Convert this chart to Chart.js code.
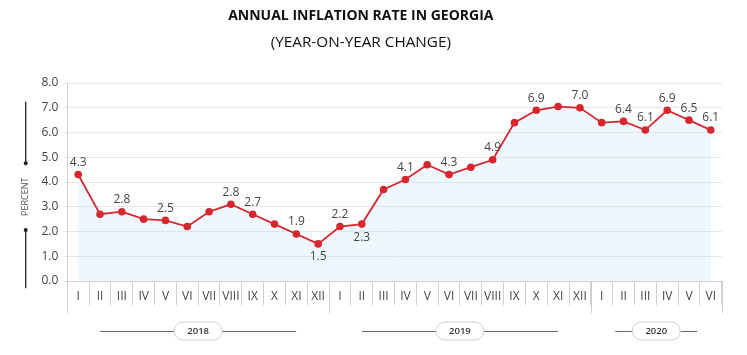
<!DOCTYPE html>
<html>
<head>
<meta charset="utf-8">
<script src="https://cdn.jsdelivr.net/npm/chart.js@4.4.0/dist/chart.umd.min.js"></script>
<style>
  html, body { margin: 0; padding: 0; background: #fff; }
</style>
</head>
<body>
<canvas id="chart" width="747" height="355"></canvas>
<script>
// month labels (roman numerals), Jan 2018 .. Jun 2020
const months = ["I","II","III","IV","V","VI","VII","VIII","IX","X","XI","XII",
                "I","II","III","IV","V","VI","VII","VIII","IX","X","XI","XII",
                "I","II","III","IV","V","VI"];
const years = ["2018", "2019", "2020"];
const yearMonths = [12, 12, 6]; // months shown per year

// annual inflation, %
const inflation = [4.3, 2.7, 2.8, 2.5, 2.45, 2.2, 2.8, 3.1, 2.7, 2.3, 1.9, 1.5,
                   2.2, 2.3, 3.7, 4.1, 4.7, 4.3, 4.6, 4.9, 6.4, 6.9, 7.05, 7.0,
                   6.4, 6.45, 6.1, 6.9, 6.5, 6.1];

// value labels printed on the chart ("" = none)
const pointLabels = ["4.3","","2.8","","2.5","","","2.8","2.7","","1.9","1.5",
                     "2.2","2.3","","4.1","","4.3","","4.9","","6.9","","7.0",
                     "","6.4","6.1","6.9","6.5","6.1"];
const labelsBelow = [11, 13];

const yTicks = [0, 1, 2, 3, 4, 5, 6, 7, 8];

const RED = "#d6262e";
const TXT = "#444";
const FONT = "'Open Sans', sans-serif";

// value labels above / below points
const valueLabels = {
  id: "valueLabels",
  afterDatasetsDraw(chart) {
    const ctx = chart.ctx;
    const pts = chart.getDatasetMeta(0).data;
    ctx.save();
    ctx.font = "12px " + FONT;
    ctx.fillStyle = TXT;
    ctx.textAlign = "center";
    ctx.textBaseline = "middle";
    pts.forEach((p, i) => {
      if (!pointLabels[i]) return;
      const below = labelsBelow.includes(i);
      ctx.fillText(pointLabels[i], p.x, below ? p.y + 13 : p.y - 12);
    });
    ctx.restore();
  }
};

// year separators, year pills and the y-axis caption
const decorations = {
  id: "decorations",
  afterDraw(chart) {
    const ctx = chart.ctx;
    const xs = chart.scales.x;
    const area = chart.chartArea;
    const step = xs.getPixelForValue(1) - xs.getPixelForValue(0);
    ctx.save();

    // longer tick marks at year boundaries
    ctx.strokeStyle = "#cfcfcf";
    ctx.lineWidth = 1;
    let start = 0;
    const bounds = [0];
    yearMonths.forEach(n => { start += n; bounds.push(start); });
    bounds.forEach(b => {
      const x = Math.round(xs.getPixelForValue(b) - step / 2) + 0.5;
      ctx.beginPath();
      ctx.moveTo(x, area.bottom);
      ctx.lineTo(x, area.bottom + 32);
      ctx.stroke();
    });

    // year pills
    const yMid = area.bottom + 50;
    start = 0;
    years.forEach((yr, k) => {
      const n = yearMonths[k];
      const cx = xs.getPixelForValue(start + (n - 1) / 2);
      const half = n === 12 ? 98 : 41;
      start += n;

      ctx.strokeStyle = "#666";
      ctx.lineWidth = 1;
      ctx.beginPath();
      ctx.moveTo(cx - half, yMid + 0.5);
      ctx.lineTo(cx + half, yMid + 0.5);
      ctx.stroke();

      const w = 48, h = 18;
      ctx.beginPath();
      ctx.roundRect(cx - w / 2, yMid - h / 2, w, h, h / 2);
      ctx.fillStyle = "#fff";
      ctx.fill();
      ctx.strokeStyle = "#cfcfcf";
      ctx.stroke();

      ctx.fillStyle = "#333";
      ctx.font = "600 9.5px " + FONT;
      ctx.textAlign = "center";
      ctx.textBaseline = "middle";
      ctx.fillText(yr, cx, yMid + 0.5);
    });

    // "PERCENT" caption with the two marker lines
    const ax = 25.7, cy = 196.7;
    ctx.strokeStyle = "#222";
    ctx.fillStyle = "#222";
    ctx.lineWidth = 1.3;
    ctx.beginPath();
    ctx.moveTo(ax, 101.7); ctx.lineTo(ax, cy - 33.4);
    ctx.moveTo(ax, cy + 33.3); ctx.lineTo(ax, 288.3);
    ctx.stroke();
    [cy - 33.4, cy + 33.3].forEach(y => {
      ctx.beginPath();
      ctx.arc(ax, y, 2, 0, Math.PI * 2);
      ctx.fill();
    });
    ctx.translate(ax, cy);
    ctx.rotate(-Math.PI / 2);
    ctx.fillStyle = "#555";
    ctx.font = "9px " + FONT;
    ctx.textAlign = "center";
    ctx.textBaseline = "middle";
    ctx.fillText("PERCENT", 0, 0);
    ctx.restore();
  }
};

new Chart(document.getElementById("chart"), {
  type: "line",
  data: {
    labels: months,
    datasets: [{
      data: inflation,
      borderColor: RED,
      borderWidth: 1.8,
      backgroundColor: "rgba(200,228,248,0.3)",
      fill: "origin",
      tension: 0,
      pointRadius: 3.8,
      pointBackgroundColor: RED,
      pointBorderWidth: 0
    }]
  },
  options: {
    responsive: false,
    animation: false,
    devicePixelRatio: 1,
    layout: { padding: { left: 0, right: 25.3, top: 0, bottom: 0 } },
    plugins: {
      legend: { display: false },
      tooltip: { enabled: false },
      title: {
        display: true,
        text: "ANNUAL INFLATION RATE IN GEORGIA",
        color: "#111",
        font: { family: FONT, size: 14, weight: "bold", lineHeight: 1.2 },
        padding: { top: 8, bottom: 0 }
      },
      subtitle: {
        display: true,
        text: "(YEAR-ON-YEAR CHANGE)",
        color: "#111",
        font: { family: FONT, size: 15.3, lineHeight: 1.2 },
        padding: { top: 8.6, bottom: 31.3 }
      }
    },
    scales: {
      x: {
        offset: true,
        grid: { offset: true, drawOnChartArea: false, drawTicks: true, tickLength: 24, color: "#cfcfcf" },
        border: { color: "#cfcfcf" },
        ticks: { color: TXT, font: { family: FONT, size: 12 }, padding: -16, maxRotation: 0, autoSkip: false },
        afterFit: s => { s.height = 74; }
      },
      y: {
        min: yTicks[0],
        max: yTicks[yTicks.length - 1],
        afterBuildTicks: s => { s.ticks = yTicks.map(v => ({ value: v })); },
        grid: { color: "#e6e6e6", tickLength: 4 },
        border: { color: "#cfcfcf" },
        ticks: { color: TXT, font: { family: FONT, size: 12 }, padding: 5, callback: v => v.toFixed(1) },
        afterFit: s => { s.width = 67.3; }
      }
    }
  },
  plugins: [valueLabels, decorations]
});
</script>
</body>
</html>
